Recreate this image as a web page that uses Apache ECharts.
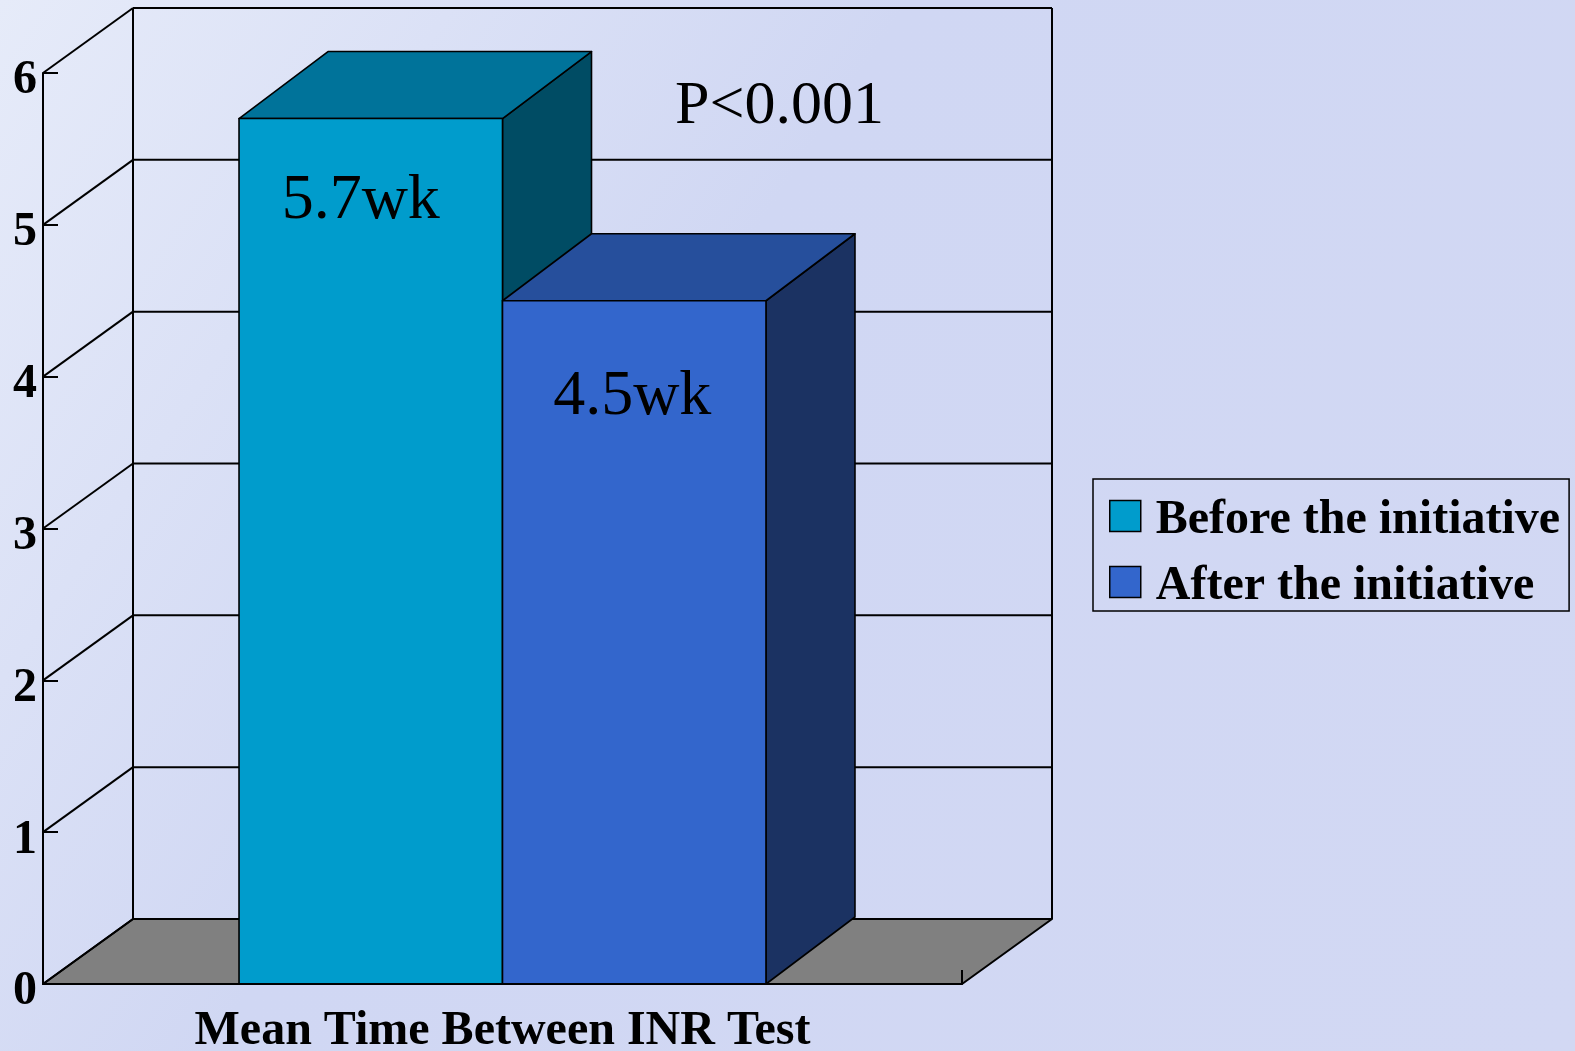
<!DOCTYPE html>
<html><head><meta charset="utf-8">
<script src="https://cdn.jsdelivr.net/npm/echarts@6/dist/echarts.min.js"></script>
<style>html,body{margin:0;padding:0;width:1575px;height:1051px;overflow:hidden;}
#chart{width:1575px;height:1051px;}</style>
</head><body><div id="chart"></div>
<script>
// ---- data ----
const categories = ['Mean Time Between INR Test'];
const seriesNames = ['Before the initiative', 'After the initiative'];
const beforeValues = [5.7];
const afterValues = [4.5];
const yTicks = [0, 1, 2, 3, 4, 5, 6];
const pLabel = 'P<0.001';
const unit = 'wk';

// ---- style constants ----
const SERIF = "'Liberation Serif','Times New Roman',serif";
const WALL_DX = 90, WALL_DY = -65;
const BAR_DX = 89, BAR_DY = -67;
const BAR_FRAC = 0.2867;
const palettes = [
  {front: '#009ccc', top: '#00739a', side: '#004c64'},
  {front: '#3366cc', top: '#264f9c', side: '#1b3262'}
];
const labelShift = [{dx: -10, dy: 83}, {dx: -2, dy: 96}];

function wallRender(params, api) {
  const lv = api.value(1);
  const c = api.coord([api.value(0), lv]);
  const bandW = api.size([1, 0])[0];
  const L = c[0] - bandW / 2, R = c[0] + bandW / 2, y = c[1];
  const ls = {stroke: '#000', lineWidth: 2};
  const children = [];
  if (params.dataIndex === 0) {
    const top = api.coord([api.value(0), yTicks[yTicks.length - 1]])[1];
    children.push({type: 'polygon', shape: {points: [[L, y], [R, y], [R + WALL_DX, y + WALL_DY], [L + WALL_DX, y + WALL_DY]]},
      style: {fill: '#808080', stroke: '#000', lineWidth: 2, lineJoin: 'round'}});
    children.push({type: 'line', shape: {x1: L + WALL_DX, y1: y + WALL_DY, x2: L + WALL_DX, y2: top + WALL_DY}, style: ls});
    children.push({type: 'line', shape: {x1: R + WALL_DX, y1: y + WALL_DY, x2: R + WALL_DX, y2: top + WALL_DY}, style: ls});
  }
  children.push({type: 'line', shape: {x1: L, y1: y, x2: L + WALL_DX, y2: y + WALL_DY}, style: ls});
  children.push({type: 'line', shape: {x1: L + WALL_DX, y1: y + WALL_DY, x2: R + WALL_DX, y2: y + WALL_DY}, style: ls});
  return {type: 'group', children};
}

function makeBarRender(sIdx, nSeries) {
  const col = palettes[sIdx], sh = labelShift[sIdx];
  return function (params, api) {
    const v = api.value(1);
    const c = api.coord([api.value(0), v]);
    const base = api.coord([api.value(0), 0]);
    const bandW = api.size([1, 0])[0];
    const bw = bandW * BAR_FRAC;
    const x0 = c[0] - bw * nSeries / 2 + sIdx * bw, x1 = x0 + bw;
    const yT = c[1], yB = base[1];
    const ls = {stroke: '#000', lineWidth: 1.6, lineJoin: 'round'};
    return {type: 'group', children: [
      {type: 'polygon', shape: {points: [[x1, yB], [x1 + BAR_DX, yB + BAR_DY], [x1 + BAR_DX, yT + BAR_DY], [x1, yT]]},
        style: Object.assign({fill: col.side}, ls)},
      {type: 'polygon', shape: {points: [[x0, yT], [x1, yT], [x1 + BAR_DX, yT + BAR_DY], [x0 + BAR_DX, yT + BAR_DY]]},
        style: Object.assign({fill: col.top}, ls)},
      {type: 'rect', shape: {x: x0, y: yT, width: bw, height: yB - yT},
        style: Object.assign({fill: col.front}, ls)},
      {type: 'text', x: (x0 + x1) / 2 + sh.dx, y: yT + sh.dy,
        style: {text: v + unit, fill: '#000', font: '64px ' + SERIF, align: 'center', verticalAlign: 'middle'}}
    ]};
  };
}

const valueSets = [beforeValues, afterValues];
const barSeries = valueSets.map((vals, i) => ({
  type: 'custom', name: seriesNames[i], z: 3, clip: false,
  itemStyle: {color: palettes[i].front},
  renderItem: makeBarRender(i, valueSets.length),
  data: categories.map((c, k) => [c, vals[k]])
}));

const chart = echarts.init(document.getElementById('chart'), null, {renderer: 'canvas'});
chart.setOption({
  animation: false,
  backgroundColor: {type: 'linear', x: 0, y: 0, x2: 1, y2: 1, colorStops: [
    {offset: 0, color: '#e6ebf9'}, {offset: 0.4, color: '#d0d7f3'}, {offset: 1, color: '#d2d8f3'}]},
  grid: {left: 43, right: 613, top: 73, bottom: 67, containLabel: false, outerBoundsMode: 'none'},
  legend: {
    data: seriesNames, orient: 'vertical', left: 1093, top: 479,
    padding: [18, 9, 0, 16], itemGap: 18, itemWidth: 31, itemHeight: 31, icon: 'rect',
    borderColor: '#000', borderWidth: 1.5,
    itemStyle: {borderColor: '#000', borderWidth: 1.5},
    formatter: name => '{a|' + name + '}',
    textStyle: {
      fontFamily: SERIF, fontWeight: 'bold', fontSize: 48, color: '#000',
      rich: {a: {fontFamily: SERIF, fontWeight: 'bold', fontSize: 48, color: '#000', padding: [10, 0, 0, 10]}}
    }
  },
  xAxis: {
    type: 'category', data: categories, z: 5,
    axisLine: {lineStyle: {color: '#000', width: 2}},
    axisTick: {show: true, inside: true, length: 14, lineStyle: {color: '#000', width: 2}},
    axisLabel: {margin: 24, fontFamily: SERIF, fontWeight: 'bold', fontSize: 48, color: '#000'},
    splitLine: {show: false}
  },
  yAxis: {
    type: 'value', min: yTicks[0], max: yTicks[yTicks.length - 1], interval: 1, z: 5,
    axisLine: {show: true, lineStyle: {color: '#000', width: 2}},
    axisTick: {show: true, inside: true, length: 15, lineStyle: {color: '#000', width: 2}},
    axisLabel: {margin: 6, verticalAlign: 'top', lineHeight: 16, fontFamily: SERIF, fontWeight: 'bold', fontSize: 48, color: '#000'},
    splitLine: {show: false}
  },
  graphic: [{type: 'text', x: 675, y: 107, z: 10,
    style: {text: pLabel, fill: '#000', font: '62px ' + SERIF, align: 'left', verticalAlign: 'middle'}}],
  series: [{
    type: 'custom', name: 'walls', z: 1, clip: false, silent: true,
    renderItem: wallRender,
    data: yTicks.map(t => [categories[0], t])
  }].concat(barSeries)
});
</script></body></html>
